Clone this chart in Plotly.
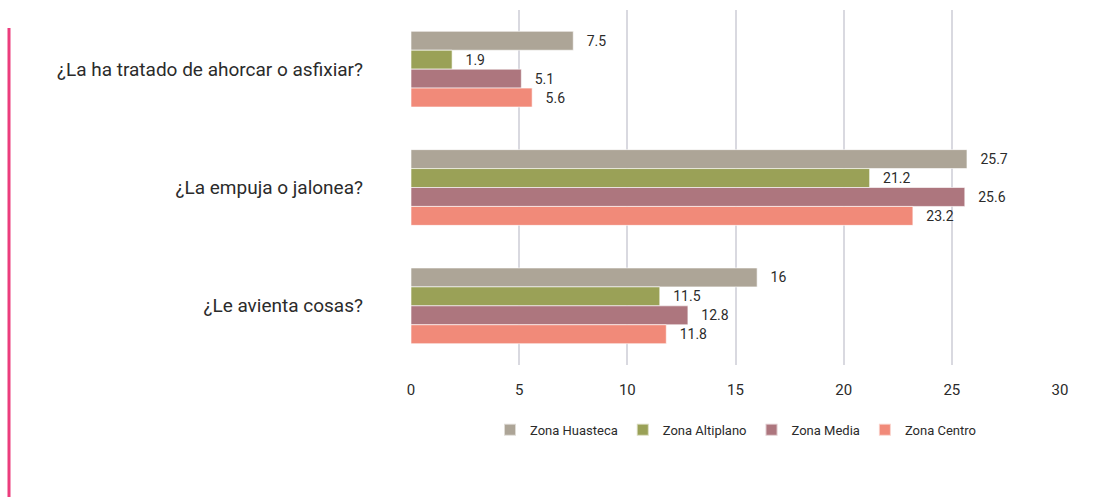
import plotly.graph_objects as go

categories = ["¿La ha tratado de ahorcar o asfixiar?", "¿La empuja o jalonea?", "¿Le avienta cosas?"]
series_names = ["Zona Huasteca", "Zona Altiplano", "Zona Media", "Zona Centro"]
huasteca = [7.5, 25.7, 16]
altiplano = [1.9, 21.2, 11.5]
media = [5.1, 25.6, 12.8]
centro = [5.6, 23.2, 11.8]
x_ticks = [0, 5, 10, 15, 20, 25, 30]

values = [huasteca, altiplano, media, centro]
colors = ["#ADA597", "#9AA157", "#AD767E", "#F18A79"]

FONT = "Roboto, Liberation Sans Narrow, sans-serif"

fig = go.Figure()
for name, vals, col in zip(series_names, values, colors):
    fig.add_trace(go.Bar(
        y=categories, x=vals, name=name, orientation="h",
        marker=dict(color=col, line=dict(color="rgba(255,255,255,0.6)", width=1)),
        text=[str(v) for v in vals], texttemplate="   %{text}", textposition="outside",
        textfont=dict(family=FONT, size=14, color="#2b2b2b"),
        cliponaxis=False,
    ))

fig.update_layout(
    width=1100, height=497,
    barmode="group", bargap=0.36, bargroupgap=0,
    plot_bgcolor="white", paper_bgcolor="white",
    margin=dict(l=411, r=40, t=10, b=132),
    font=dict(family=FONT, color="#2b2b2b"),
    xaxis=dict(range=[0, 30], tickvals=x_ticks, showgrid=True, gridcolor="#D9D9E0", gridwidth=2,
               zeroline=False, showline=False, tickfont=dict(size=15, family=FONT, color="#2b2b2b"),
               ticklabelstandoff=14),
    yaxis=dict(autorange="reversed", showgrid=False, showline=False, ticks="",
               tickfont=dict(size=19, family=FONT, color="#2b2b2b"), ticklabelstandoff=47),
    legend=dict(orientation="h", x=0.5, xanchor="center", y=-0.14, yanchor="top",
                font=dict(size=13, family=FONT, color="#2b2b2b"), itemwidth=30,
                itemsizing="constant"),
    shapes=[dict(type="line", xref="paper", yref="paper",
                 x0=(9 - 411) / 649, x1=(9 - 411) / 649,
                 y0=(365 - 28) / 355, y1=(365 - 500) / 355,
                 line=dict(color="#EC3D7D", width=3))],
)

fig.write_html("out.html")
